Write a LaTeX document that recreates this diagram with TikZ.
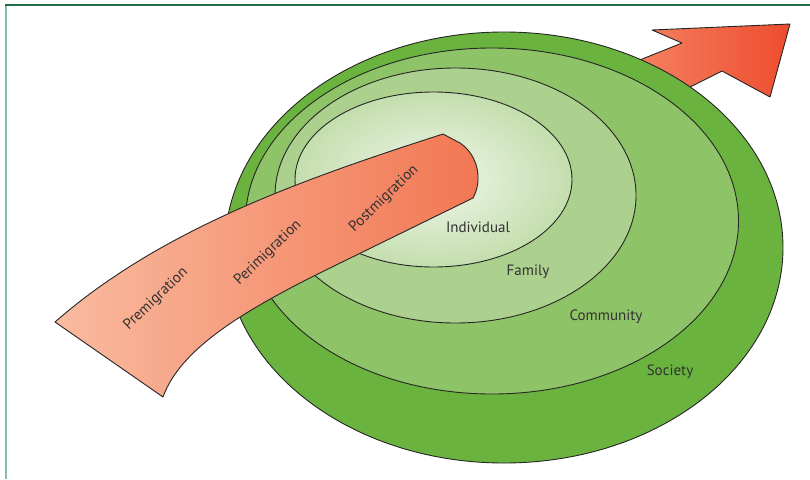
\documentclass[tikz,border=0pt]{standalone}
\usepackage{fontspec}
\setmainfont{PT Sans}
\usetikzlibrary{shadings}
\definecolor{society}{RGB}{107,179,63}
\definecolor{community}{RGB}{143,195,103}
\definecolor{family}{RGB}{172,209,142}
\definecolor{indivin}{RGB}{240,247,235}
\definecolor{indivout}{RGB}{196,222,174}
\definecolor{bandL}{RGB}{249,187,160}
\definecolor{bandR}{RGB}{242,118,82}
\definecolor{arrL}{RGB}{246,142,108}
\definecolor{arrR}{RGB}{237,76,46}
\definecolor{txt}{RGB}{50,50,50}
\definecolor{frameTop}{RGB}{34,107,71}
\definecolor{frameLeft}{RGB}{134,191,158}
\tikzset{
  outline/.style={draw=black!85, line width=0.9pt, line join=round},
  lbl/.style={text=txt, font=\fontsize{15}{18}\selectfont, inner sep=0pt},
  bandlbl/.style={lbl, rotate=44},
}
\begin{document}
\begin{tikzpicture}[x=1pt,y=-1pt]
\useasboundingbox (0,0) rectangle (810,479);
% frame
\draw[frameLeft, line width=2pt] (5.5,5) -- (5.5,479);
\draw[frameTop, line width=1.5pt] (4.5,5) -- (810,5);
% outgoing arrow (behind the circles)
\shade[outline, left color=arrL, right color=arrR]
  (652,106) -- (722,71) -- (770,97) -- (790,24) -- (652,30) -- (682,43) -- (600,76) -- cycle;
% nested ellipses
\draw[outline, fill=society] (504,247.5) ellipse [x radius=279, y radius=215.5];
\draw[outline, fill=community] (492,221) ellipse [x radius=246.5, y radius=173];
\draw[outline, fill=family] (455.5,195.5) ellipse [x radius=180.5, y radius=127.5];
\shade[outline, inner color=indivin, outer color=indivout] (433.5,179.5) ellipse [x radius=138.5, y radius=87.5];
% migration band
\shade[outline, left color=bandL, right color=bandR]
  (55,322) .. controls (160,230) and (300,180) .. (443,134)
  -- (460,143) .. controls (478,155) and (483,180) .. (473,198)
  -- (330,268) .. controls (240,312) and (180,350) .. (163,397)
  -- cycle;
% labels
\node[lbl] (individual) at (478,227) {Individual};
\node[lbl] (family) at (528,272) {Family};
\node[lbl] (community) at (606,317) {Community};
\node[lbl] (society) at (670,372) {Society};
\node[bandlbl] (pre) at (156,299) {Premigration};
\node[bandlbl] (peri) at (268,253) {Perimigration};
\node[bandlbl] (post) at (384,199) {Postmigration};
\end{tikzpicture}
\end{document}
